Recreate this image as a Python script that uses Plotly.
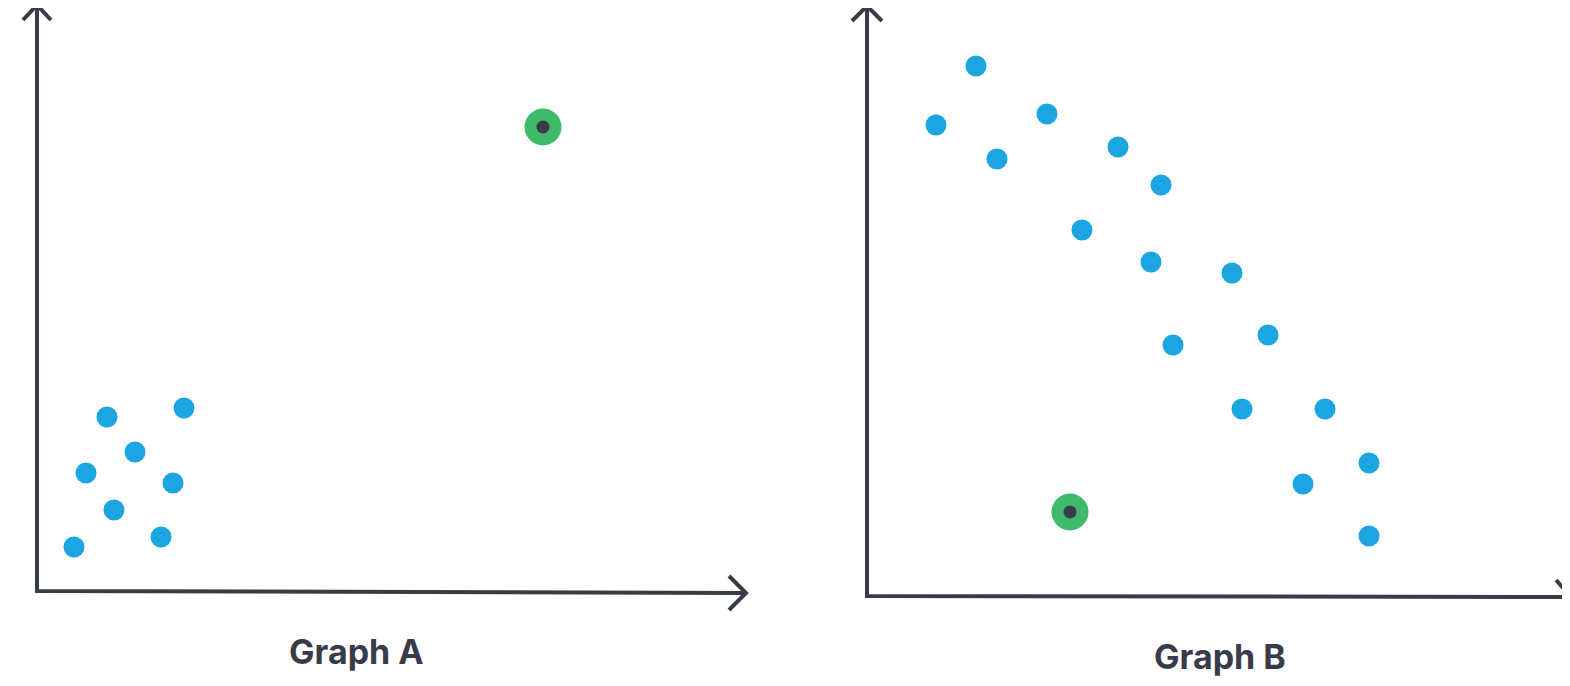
import plotly.graph_objects as go

# positions (pixel space of the 1570x686 canvas)
a_x = [73, 106, 85, 113, 134, 160, 172, 183]
a_y = [546, 416, 472, 509, 451, 536, 482, 407]
a_special = (542, 126)

b_x = [975, 935, 1046, 996, 1117, 1160, 1081, 1150, 1231, 1267, 1172, 1241, 1324, 1368, 1302, 1368]
b_y = [65, 124, 113, 158, 146, 184, 229, 261, 272, 334, 344, 408, 408, 462, 483, 535]
b_special = (1069, 511)

titles = ["Graph A", "Graph B"]
title_pos = [(355, 650), (1219, 655)]

ink = "#383b48"
blue = "#1ba5e1"
green = "#3fb96a"

# axis polylines: top arrow, vertical, horizontal, right arrow
axes_a = dict(x=[22, 36, 50, None, 36, 36, 745, None, 728, 745, 728],
              y=[19, 4, 19, None, 4, 590, 592, None, 575, 592, 609])
axes_b = dict(x=[851, 866, 881, None, 866, 866, 1570, None, 1555, 1570],
              y=[20, 5, 20, None, 5, 595, 596, None, 579, 596])

fig = go.Figure()
for ax in (axes_a, axes_b):
    fig.add_trace(go.Scatter(x=ax["x"], y=ax["y"], mode="lines",
                             line=dict(color=ink, width=4), hoverinfo="skip"))

fig.add_trace(go.Scatter(x=a_x + b_x, y=a_y + b_y, mode="markers",
                         marker=dict(color=blue, size=21, line=dict(width=0))))

sx = [a_special[0], b_special[0]]
sy = [a_special[1], b_special[1]]
fig.add_trace(go.Scatter(x=sx, y=sy, mode="markers",
                         marker=dict(color=green, size=37, line=dict(width=0))))
fig.add_trace(go.Scatter(x=sx, y=sy, mode="markers",
                         marker=dict(color=ink, size=13, line=dict(width=0))))

for t, (tx, ty) in zip(titles, title_pos):
    fig.add_annotation(x=tx, y=ty, text="<b>" + t + "</b>", showarrow=False,
                       font=dict(family="Inter", size=34, color=ink))

fig.update_layout(
    width=1570, height=686,
    margin=dict(l=0, r=0, t=0, b=0),
    paper_bgcolor="white", plot_bgcolor="white",
    showlegend=False,
)
# page has an 8px body margin, so shift the view to line up with the canvas
fig.update_xaxes(range=[7, 1577], visible=False)
fig.update_yaxes(range=[693, 7], visible=False)

fig.write_html("out.html")
